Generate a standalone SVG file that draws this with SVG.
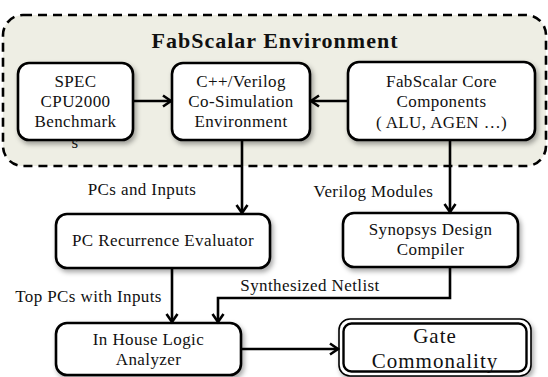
<svg xmlns="http://www.w3.org/2000/svg" width="548" height="377" viewBox="0 0 548 377">
<defs>
<filter id="sh" x="-10%" y="-10%" width="130%" height="140%">
<feDropShadow dx="2" dy="3" stdDeviation="2.5" flood-color="#000" flood-opacity="0.35"/>
</filter>
<marker id="ah" markerUnits="userSpaceOnUse" markerWidth="14" markerHeight="14" refX="10" refY="7" orient="auto">
<path d="M2,1.5 L10,7 L2,12.5" fill="none" stroke="#000" stroke-width="2.6" stroke-linejoin="miter"/>
</marker>
<style>
text{font-family:"Liberation Serif","Times New Roman",serif;font-size:17px;fill:#111;text-anchor:middle;letter-spacing:0.4px}
.box{fill:#fff;stroke:#000;stroke-width:2.6}
.con{fill:none;stroke:#000;stroke-width:2.6;marker-end:url(#ah)}
.title{font-weight:bold;font-size:22px;letter-spacing:1px}
.big{font-size:21px;letter-spacing:1px}
</style>
</defs>
<rect width="548" height="377" fill="#fff"/>
<g id="env">
<rect x="3" y="15" width="543" height="151" rx="20" fill="#eeeee4" stroke="#000" stroke-width="2.6" stroke-dasharray="9,6"/>
<text class="title" x="275" y="48">FabScalar Environment</text>
</g>
<g id="spec">
<rect class="box" x="18" y="63" width="115" height="77" rx="11" filter="url(#sh)"/>
<text x="75.5" y="87">SPEC</text>
<text x="75.5" y="107">CPU2000</text>
<text x="75.5" y="127">Benchmark</text>
<text x="75" y="148">s</text>
</g>
<g id="cosim">
<rect class="box" x="172" y="63" width="138" height="77" rx="11" filter="url(#sh)"/>
<text x="241" y="87">C++/Verilog</text>
<text x="241" y="107">Co-Simulation</text>
<text x="241" y="127">Environment</text>
</g>
<g id="core">
<rect class="box" x="348" y="62" width="187" height="78" rx="11" filter="url(#sh)"/>
<text x="441.5" y="87">FabScalar Core</text>
<text x="441.5" y="107">Components</text>
<text x="441.5" y="128">( ALU, AGEN …)</text>
</g>
<g id="pcrec">
<rect class="box" x="56" y="214" width="214" height="54" rx="11" filter="url(#sh)"/>
<text x="163" y="246">PC Recurrence Evaluator</text>
</g>
<g id="synopsys">
<rect class="box" x="343" y="213" width="175" height="54" rx="11" filter="url(#sh)"/>
<text x="430.5" y="235">Synopsys Design</text>
<text x="430.5" y="255">Compiler</text>
</g>
<g id="inhouse">
<rect class="box" x="56" y="323" width="185" height="52" rx="11" filter="url(#sh)"/>
<text x="148.5" y="345">In House Logic</text>
<text x="148.5" y="365">Analyzer</text>
</g>
<g id="gate">
<rect x="339" y="319" width="192" height="57" rx="11" fill="#fff" stroke="#000" stroke-width="1.6" filter="url(#sh)"/>
<rect x="343.5" y="323.5" width="183" height="48" rx="8" fill="none" stroke="#000" stroke-width="2.4"/>
<text class="big" x="435" y="343">Gate</text>
<text class="big" x="435" y="368">Commonality</text>
</g>
<g id="connectors">
<path class="con" d="M133,101 H171"/>
<path class="con" d="M348,101 H311"/>
<path class="con" d="M242,140 V213"/>
<path class="con" d="M450,140 V212"/>
<path class="con" d="M172,268 V322"/>
<path class="con" d="M450,267 V298 H218 V322"/>
<path class="con" d="M241,349 H338"/>
</g>
<g id="labels">
<text x="142" y="195">PCs and Inputs</text>
<text x="373.5" y="197">Verilog Modules</text>
<text x="88.5" y="302">Top PCs with Inputs</text>
<text x="310" y="291">Synthesized Netlist</text>
</g>
</svg>
